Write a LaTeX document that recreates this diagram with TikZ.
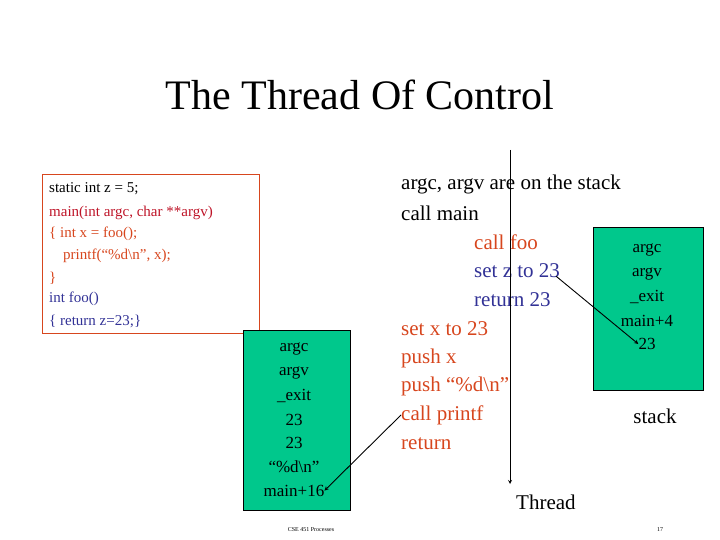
\documentclass[tikz,border=0pt]{standalone}
\usepackage{fontspec}
\setmainfont{Liberation Serif}
\definecolor{dred}{RGB}{190,20,40}
\definecolor{ored}{RGB}{215,70,30}
\definecolor{dblue}{RGB}{50,50,150}
\definecolor{sgreen}{RGB}{0,200,140}
\begin{document}
\begin{tikzpicture}[x=1pt,y=-1pt,
  code/.style={anchor=west,font=\fontsize{15}{15}\selectfont,inner sep=0},
  big/.style={anchor=west,font=\fontsize{21}{21}\selectfont,inner sep=0},
  stk/.style={font=\fontsize{17}{17}\selectfont,inner sep=0},
  gbox/.style={draw=black,fill=sgreen,line width=0.8pt}]
\useasboundingbox (0,0) rectangle (720,540);
\node (title) at (360,95) {\fontsize{42}{42}\selectfont The Thread Of Control};
\draw[draw=ored,line width=0.8pt] (42,174) rectangle (259,333);
\node[code] (c1) at (49,189) {static int z = 5;};
\node[code,text=dred] (c2) at (49,213) {main(int argc, char **argv)};
\node[code,text=ored] (c3) at (49,234) {\{ int x = foo();};
\node[code,text=ored] (c4) at (63,256) {printf(“\%d\textbackslash n”, x);};
\node[code,text=ored] (c5) at (49,278) {\}};
\node[code,text=dblue] (c6) at (49,299) {int foo()};
\node[code,text=dblue] (c7) at (49,321) {\{ return z=23;\}};
\node[gbox,minimum width=107,minimum height=180,anchor=north west,inner sep=0] (lb) at (243,330) {};
\foreach \t [count=\i] in {argc,argv,\_exit,23,23,“\%d\textbackslash n”,main+16}
  \node[stk] (l\i) at (294,{349+(\i-1)*23.6}) {\t};
\node[gbox,minimum width=110,minimum height=163,anchor=north west,inner sep=0] (rb) at (593,227) {};
\foreach \t [count=\i] in {argc,argv,\_exit,main+4,23}
  \node[stk] (r\i) at (647,{250+(\i-1)*23.5}) {\t};
\node[stk,font=\fontsize{21}{21}\selectfont] (stack) at (655,416) {stack};
\node[big] (t1) at (401,184) {argc, argv are on the stack};
\node[big] (t2) at (401,213) {call main};
\node[big,text=ored] (t3) at (474,242) {call foo};
\node[big,text=dblue] (t4) at (474,271) {set z to 23};
\node[big,text=dblue] (t5) at (474,300) {return 23};
\node[big,text=ored] (t6) at (401,329) {set x to 23};
\node[big,text=ored] (t7) at (401,358) {push x};
\node[big,text=ored] (t8) at (401,386) {push “\%d\textbackslash n”};
\node[big,text=ored] (t9) at (401,415) {call printf};
\node[big,text=ored] (t10) at (401,444) {return};
\coordinate (ttop) at (510,150);
\coordinate (tbot) at (510,484);
\draw[-stealth,line width=0.8pt] (ttop) -- (tbot);
\node[big] (thr) at (516,502) {Thread};
\draw[-stealth,line width=0.9pt] (t4.south east) ++(-4,-2) coordinate (a1) -- (r5.west);
\draw[-stealth,line width=0.9pt] (t9.west) -- (l7.east);
\node[font=\fontsize{6}{6}\selectfont] (foot) at (311,530) {CSE 451 Processes};
\node[font=\fontsize{6}{6}\selectfont] (pg) at (660,530) {17};
\end{tikzpicture}
\end{document}
